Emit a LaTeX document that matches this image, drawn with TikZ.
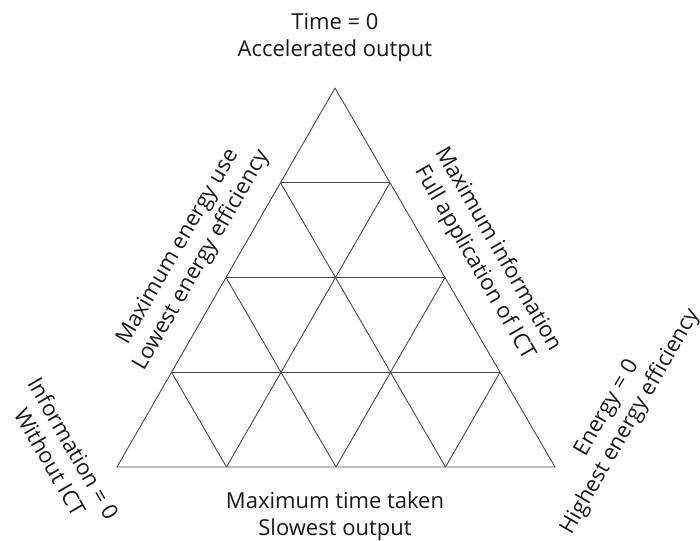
\documentclass[tikz,border=0pt]{standalone}
\usepackage{fontspec}
\setmainfont{Open Sans}
\usetikzlibrary{calc}
\begin{document}
\begin{tikzpicture}[x=1pt,y=-1pt,
  gridline/.style={draw=black!72, line width=0.9pt, line join=round},
  lbl/.style={align=center, font=\fontsize{22}{27}\selectfont, inner sep=0pt, text=black!90}]
\useasboundingbox (0,0) rectangle (700,540);
\coordinate (A) at (335,88);
\coordinate (B) at (117,467);
\coordinate (C) at (555,467);
\foreach \k in {1,2,3}{
  \coordinate (L\k) at ($(A)!\k/4!(B)$);
  \coordinate (R\k) at ($(A)!\k/4!(C)$);
  \coordinate (D\k) at ($(B)!\k/4!(C)$);
}
\draw[gridline] (A) -- (B) -- (C) -- cycle;
\foreach \k in {1,2,3}{
  \pgfmathtruncatemacro{\m}{4-\k}
  \draw[gridline] (L\k) -- (R\k);
  \draw[gridline] (D\k) -- (R\k);
  \draw[gridline] (D\k) -- (L\m);
}
\node[lbl] (top) at (335,38) {Time = 0\\Accelerated output};
\node[lbl] (bottom) at (335,516) {Maximum time taken\\Slowest output};
\node[lbl, rotate=60] (left) at (190,254) {Maximum energy use\\Lowest energy efficiency};
\node[lbl, rotate=-60] (right) at (486,256) {Maximum information\\Full application of ICT};
\node[lbl, rotate=-60] (bl) at (62,455) {Information = 0\\Without ICT};
\node[lbl, rotate=60] (br) at (619,415) {Energy = 0\\Highest energy efficiency};
\end{tikzpicture}
\end{document}
